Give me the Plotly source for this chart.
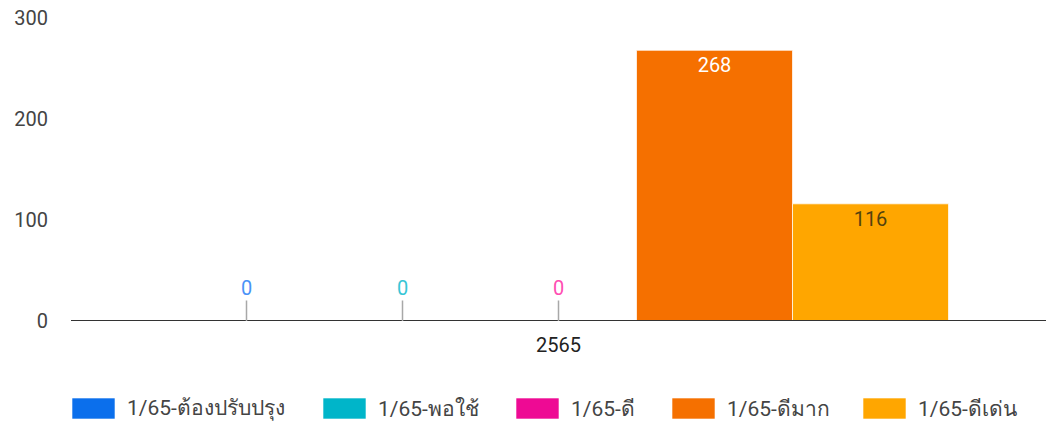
import plotly.graph_objects as go

categories = ["2565"]
series_names = ["1/65-ต้องปรับปรุง", "1/65-พอใช้", "1/65-ดี", "1/65-ดีมาก", "1/65-ดีเด่น"]
series_values = [0, 0, 0, 268, 116]
y_ticks = [0, 100, 200, 300]

colors = ["#0b6fec", "#00b5c9", "#ee0a94", "#f57000", "#ffa600"]
label_colors = ["#4a92f7", "#38c6d6", "#ff4db2", "#ffffff", "#54430f"]

FONT = "Roboto, 'Noto Sans', 'DejaVu Sans', sans-serif"
FS = 20
BARGAP = 0.2

fig = go.Figure()
for i, (name, val) in enumerate(zip(series_names, series_values)):
    fig.add_trace(go.Bar(
        x=categories, y=[val], name=name,
        marker=dict(color=colors[i], line=dict(color="rgba(255,255,255,0.7)", width=1)),
        text=[str(val)] if val > 0 else None,
        textposition="inside", insidetextanchor="end",
        textfont=dict(family=FONT, size=FS, color=label_colors[i]),
        showlegend=False, cliponaxis=False,
    ))

# zero-value labels with stems
n = len(series_names)
bw = (1 - BARGAP) / n
annotations = []
for i, val in enumerate(series_values):
    if val == 0:
        xc = -(1 - BARGAP) / 2 + bw * (i + 0.5)
        annotations.append(dict(
            x=xc, y=val, xref="x", yref="y", text=str(val),
            showarrow=True, arrowhead=0, arrowwidth=1.5, arrowcolor="#a8a8a8",
            ax=0, ay=-33, standoff=0, borderpad=0,
            font=dict(family=FONT, size=FS, color=label_colors[i]),
        ))

# custom legend (layout positions in pixels)
W, H = 1046, 425
ML, MR, MT, MB = 71, 0, 18, 104
pw, ph = W - ML - MR, H - MT - MB
legend_x = [72, 323, 516, 672, 863]
sw_w, sw_top, sw_bot = 43, 398, 419
shapes = []
for i, name in enumerate(series_names):
    x0 = (legend_x[i] - ML) / pw
    x1 = (legend_x[i] + sw_w - ML) / pw
    y0 = (H - MB - sw_bot) / ph
    y1 = (H - MB - sw_top) / ph
    shapes.append(dict(type="rect", xref="paper", yref="paper", x0=x0, x1=x1, y0=y0, y1=y1,
                       fillcolor=colors[i], line=dict(color="rgba(255,255,255,0.6)", width=1)))
    annotations.append(dict(
        x=(legend_x[i] + sw_w + 10 - ML) / pw, y=(y0 + y1) / 2, xref="paper", yref="paper",
        text=name, showarrow=False, xanchor="left", yanchor="middle",
        font=dict(family=FONT, size=21, color="#444444"),
    ))

# baseline
shapes.append(dict(type="line", xref="paper", yref="y", x0=0, x1=1, y0=0, y1=0,
                   line=dict(color="#333333", width=2)))

fig.update_layout(
    width=W, height=H,
    margin=dict(l=ML, r=MR, t=MT, b=MB),
    paper_bgcolor="white", plot_bgcolor="white",
    barmode="group", bargap=BARGAP, bargroupgap=0,
    font=dict(family=FONT, size=FS, color="#444444"),
    xaxis=dict(type="category", showgrid=False, showline=False, zeroline=False,
               ticks="", ticklabelstandoff=10, range=[-0.5, 0.5],
               tickfont=dict(family=FONT, size=FS, color="#222222")),
    yaxis=dict(range=[0, 300], tickvals=y_ticks, showgrid=False, zeroline=False,
               showline=False, ticks="", ticklabelstandoff=22,
               tickfont=dict(family=FONT, size=FS, color="#444444")),
    shapes=shapes, annotations=annotations,
    uniformtext=dict(mode=None),
)

fig.write_html("out.html")
